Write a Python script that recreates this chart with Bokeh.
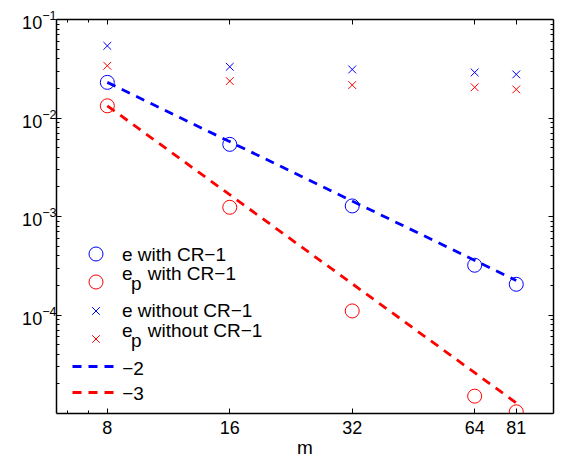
from bokeh.plotting import figure
from bokeh.models import (FixedTicker, LogAxis, LogTickFormatter, PrintfTickFormatter,
                          Legend, LegendItem, Label, CustomJSTickFormatter)
from bokeh.embed import file_html
from bokeh.resources import INLINE

# ---- data ----
m = [8, 16, 32, 64, 81]
e_with = [2.30e-2, 5.4e-3, 1.28e-3, 3.2e-4, 2.05e-4]
ep_with = [1.33e-2, 1.24e-3, 1.10e-4, 1.5e-5, 1.04e-5]
e_without = [5.4e-2, 3.31e-2, 3.11e-2, 2.90e-2, 2.77e-2]
ep_without = [3.39e-2, 2.37e-2, 2.16e-2, 2.05e-2, 1.95e-2]
slope_m = [8, 81]
slope2_vals = [2.30e-2, 2.24e-4]
slope3_vals = [1.33e-2, 1.28e-5]
x_ticks = [8, 16, 32, 64, 81]
x_minor = [6.4, 7.2]
y_ticks = [1e-4, 1e-3, 1e-2, 1e-1]
y_minor = [k * 10.0 ** e for e in range(-5, -1) for k in range(2, 10)]

FONT = "Liberation Sans"
BLUE = "#0000ff"
RED = "#ff0000"

p = figure(width=563, height=461, x_axis_type="log", y_axis_type="log",
           x_range=(6, 100), y_range=(1e-5, 1e-1),
           output_backend="svg", toolbar_location=None,
           min_border_left=56, min_border_right=10, min_border_top=19,
           min_border_bottom=48)
p.xgrid.visible = False
p.ygrid.visible = False
p.outline_line_color = None
p.background_fill_color = "white"

bottom_ax = p.xaxis[0]
left_ax = p.yaxis[0]

xt = FixedTicker(ticks=x_ticks, minor_ticks=x_minor)
yt = FixedTicker(ticks=y_ticks, minor_ticks=y_minor)

bottom_ax.ticker = xt
bottom_ax.formatter = PrintfTickFormatter(format="%d")
left_ax.ticker = yt
left_ax.formatter = LogTickFormatter()

top_ax = LogAxis(ticker=xt, formatter=CustomJSTickFormatter(code="return ''"))
right_ax = LogAxis(ticker=yt, formatter=CustomJSTickFormatter(code="return ''"))
p.add_layout(top_ax, "above")
p.add_layout(right_ax, "right")

for ax in [bottom_ax, left_ax, top_ax, right_ax]:
    ax.axis_line_color = "black"
    ax.axis_line_width = 1.5
    ax.major_tick_in = 5
    ax.major_tick_out = 0
    ax.minor_tick_in = 3
    ax.minor_tick_out = 0
    ax.major_tick_line_color = "black"
    ax.minor_tick_line_color = "black"
    ax.major_label_text_font = FONT
    ax.major_label_text_font_size = "18px"
    ax.major_label_text_color = "black"

top_ax.major_label_standoff = 0
right_ax.major_label_standoff = 0
top_ax.major_label_text_font_size = "0px"
right_ax.major_label_text_font_size = "0px"

bottom_ax.major_label_standoff = 7
left_ax.major_label_standoff = 0
bottom_ax.axis_label = "m"
bottom_ax.axis_label_text_font = FONT
bottom_ax.axis_label_text_font_size = "19px"
bottom_ax.axis_label_text_font_style = "normal"
bottom_ax.axis_label_text_color = "black"
bottom_ax.axis_label_standoff = 0

# ---- data glyphs ----
r_ew = p.scatter(m, e_with, marker="circle", size=14, fill_color=None,
                 line_color=BLUE, line_width=1)
r_epw = p.scatter(m, ep_with, marker="circle", size=14, fill_color=None,
                  line_color=RED, line_width=1)
r_ewo = p.scatter(m, e_without, marker="x", size=11, line_color=BLUE, line_width=1)
r_epwo = p.scatter(m, ep_without, marker="x", size=11, line_color=RED, line_width=1)
r_s2 = p.line(slope_m, slope2_vals, line_color=BLUE, line_width=2.8, line_dash="9 7")
r_s3 = p.line(slope_m, slope3_vals, line_color=RED, line_width=2.8, line_dash="9 7")


# one legend per entry so each key sits exactly where the reference has it
def key(r, loc, gw, gh, tag):
    lg = Legend(items=[LegendItem(label=tag, renderers=[r])],
                location=loc, glyph_width=gw, glyph_height=gh, spacing=0,
                padding=0, margin=0, border_line_color=None, background_fill_alpha=0,
                label_standoff=0, label_width=0, label_height=0,
                label_text_font_size="1px", label_text_alpha=0)
    p.add_layout(lg)

key(r_ew, (21.5, 141.9), 35, 35, " ")
key(r_epw, (21.5, 114.2), 35, 35, " ")
key(r_ewo, (25.5, 89.2), 27, 27, " ")
key(r_epwo, (25.5, 61.2), 27, 27, " ")
key(r_s2, (16, 37), 43, 20, " ")
key(r_s3, (16, 11), 43, 20, " ")

# ---- legend texts ----
DY = 7  # baseline correction

def txt(s, x, y):
    p.add_layout(Label(x=x, y=y + DY, x_units="screen", y_units="screen", text=s,
                       text_font=FONT, text_font_size="19px", text_color="black",
                       text_align="left", text_baseline="alphabetic"))

txt("e with CR\u22121", 65.5, 152.2)
txt("e", 65.5, 132.7)
txt("p", 74.4, 123.2)
txt("with CR\u22121", 91.3, 132.7)
txt("e without CR\u22121", 65.5, 96.0)
txt("e", 65.5, 76.0)
txt("p", 74.4, 66.4)
txt("without CR\u22121", 91.3, 76.0)
txt("\u22122", 65.7, 37.7)
txt("\u22123", 65.7, 13.4)

open("out.html", "w").write(file_html(p, INLINE))
